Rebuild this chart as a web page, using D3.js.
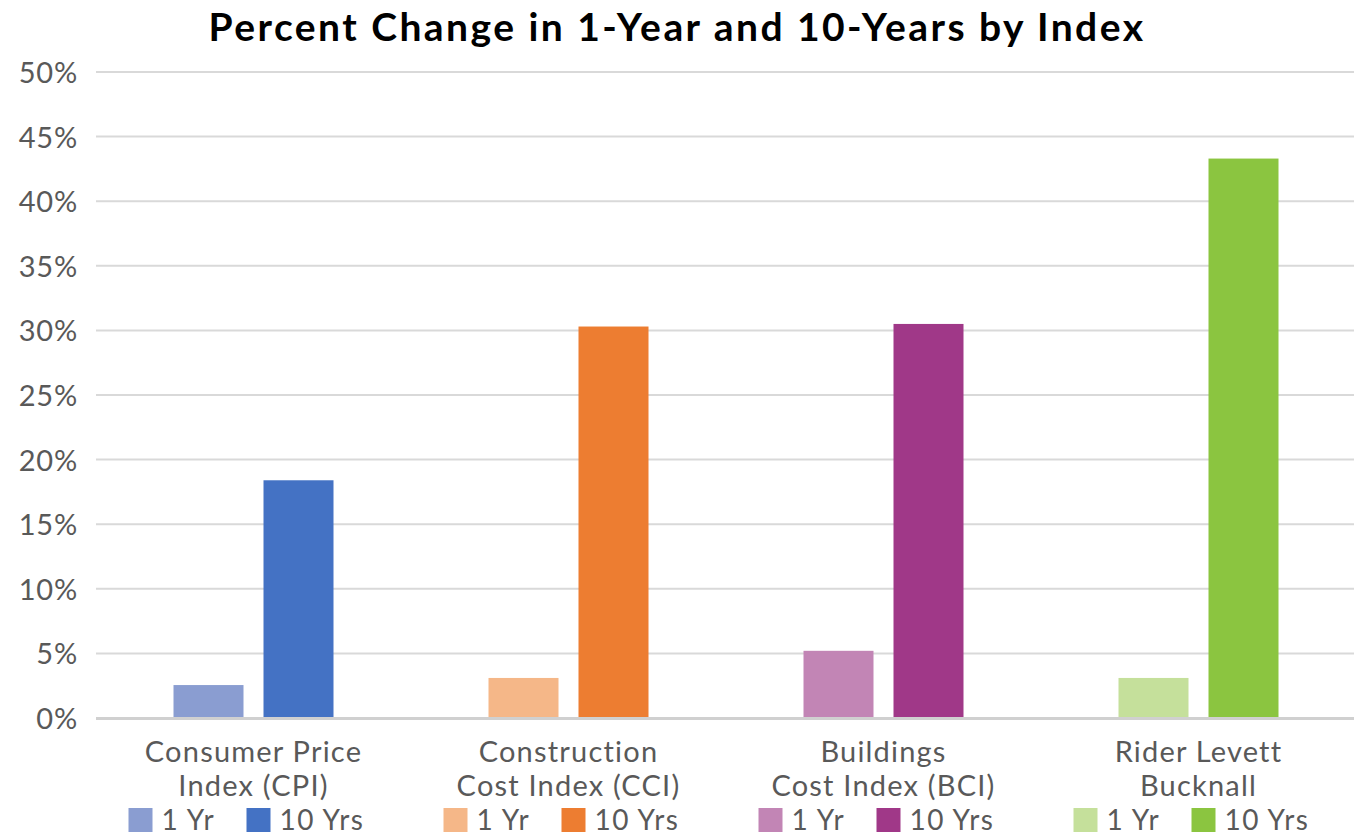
<!DOCTYPE html>
<html>
<head>
<meta charset="utf-8">
<script src="https://cdnjs.cloudflare.com/ajax/libs/d3/7.8.5/d3.min.js"></script>
<style>
  html, body { margin: 0; padding: 0; background: #fff; }
  svg { display: block; font-family: Lato, 'Noto Sans', sans-serif; }
</style>
</head>
<body>
<div id="chart"></div>
<script>
  const categories = [
    ["Consumer Price", "Index (CPI)"],
    ["Construction", "Cost Index (CCI)"],
    ["Buildings", "Cost Index (BCI)"],
    ["Rider Levett", "Bucknall"]
  ];
  const seriesNames = ["1 Yr", "10 Yrs"];
  const oneYear = [2.55, 3.1, 5.2, 3.1];
  const tenYears = [18.4, 30.3, 30.5, 43.3];
  const lightColors = ["#8a9dd1", "#f5b788", "#c285b5", "#c5e09b"];
  const darkColors = ["#4472c4", "#ed7d31", "#a03888", "#8bc540"];
  const yTicks = [0, 5, 10, 15, 20, 25, 30, 35, 40, 45, 50];

  const width = 1354, height = 837;
  const margin = { top: 72, right: -2, bottom: 119, left: 96 };
  const textColor = "#595959";

  const svg = d3.select("#chart").append("svg")
    .attr("width", width)
    .attr("height", height);

  const x = d3.scaleBand()
    .domain(d3.range(categories.length))
    .range([margin.left, width - margin.right]);

  const x1 = d3.scaleBand()
    .domain([0, 1])
    .range([0, 160])
    .paddingInner(20 / 90);

  const y = d3.scaleLinear()
    .domain([0, 50])
    .range([height - margin.bottom, margin.top]);

  // grid lines
  svg.append("g")
    .selectAll("line")
    .data(yTicks.filter(d => d > 0))
    .join("line")
    .attr("x1", margin.left)
    .attr("x2", width)
    .attr("y1", d => y(d))
    .attr("y2", d => y(d))
    .attr("stroke", "#d9d9d9")
    .attr("stroke-width", 2);

  // y labels
  const yAxis = d3.axisLeft(y)
    .tickValues(yTicks)
    .tickFormat(d => d + "%")
    .tickSize(0)
    .tickPadding(18);

  const yg = svg.append("g")
    .attr("transform", `translate(${margin.left},0)`)
    .call(yAxis);
  yg.select(".domain").remove();
  yg.selectAll("text")
    .attr("fill", textColor)
    .style("font-family", "Lato, sans-serif")
    .style("font-size", "29px")
    .style("letter-spacing", "0.8px")
    .attr("dy", "0.36em");

  // bars
  const groups = svg.append("g")
    .selectAll("g")
    .data(categories.map((c, i) => i))
    .join("g")
    .attr("transform", i => `translate(${x(i) + (x.bandwidth() - 160) / 2},0)`);

  groups.selectAll("rect")
    .data(i => [
      { v: oneYear[i], s: 0, c: lightColors[i] },
      { v: tenYears[i], s: 1, c: darkColors[i] }
    ])
    .join("rect")
    .attr("x", d => x1(d.s))
    .attr("width", x1.bandwidth())
    .attr("y", d => y(d.v))
    .attr("height", d => y(0) - y(d.v))
    .attr("fill", d => d.c);

  // baseline
  svg.append("line")
    .attr("x1", margin.left)
    .attr("x2", width)
    .attr("y1", y(0) + 0.5)
    .attr("y2", y(0) + 0.5)
    .attr("stroke", "#d0d0d0")
    .attr("stroke-width", 3);

  // category labels
  const labels = svg.append("g")
    .selectAll("text")
    .data(categories)
    .join("text")
    .attr("x", (d, i) => x(i) + x.bandwidth() / 2)
    .attr("y", y(0) + 44)
    .attr("text-anchor", "middle")
    .attr("fill", textColor)
    .style("font-size", "29px")
    .style("letter-spacing", "1.2px");
  labels.selectAll("tspan")
    .data(d => d)
    .join("tspan")
    .attr("x", function () { return this.parentNode.getAttribute("x"); })
    .attr("dy", (d, i) => i === 0 ? 0 : 34)
    .text(d => d);

  // legend under each category
  const leg = svg.append("g")
    .selectAll("g")
    .data(categories.map((c, i) => i))
    .join("g")
    .attr("transform", i => `translate(${x(i) + x.bandwidth() / 2 - 125},${y(0) + 90})`);

  const legItems = [
    { off: 0, name: seriesNames[0], light: true },
    { off: 118, name: seriesNames[1], light: false }
  ];
  legItems.forEach(it => {
    leg.append("rect")
      .attr("x", it.off)
      .attr("y", 0)
      .attr("width", 24)
      .attr("height", 24)
      .attr("fill", i => it.light ? lightColors[i] : darkColors[i]);
    leg.append("text")
      .attr("x", it.off + 33)
      .attr("y", 22)
      .attr("fill", textColor)
      .style("font-size", "28px")
      .style("letter-spacing", "1.5px")
      .text(it.name);
  });

  // title
  const titleText = "Percent Change in 1-Year and 10-Years by Index";
  const title = svg.append("text")
    .attr("x", width / 2)
    .attr("y", 41)
    .attr("text-anchor", "middle")
    .attr("fill", "#000")
    .style("font-size", "39px")
    .style("font-weight", "bold")
    .text(titleText);
  const tw = title.node().getComputedTextLength();
  title.style("letter-spacing", ((937 - tw) / titleText.length) + "px");
</script>
</body>
</html>
